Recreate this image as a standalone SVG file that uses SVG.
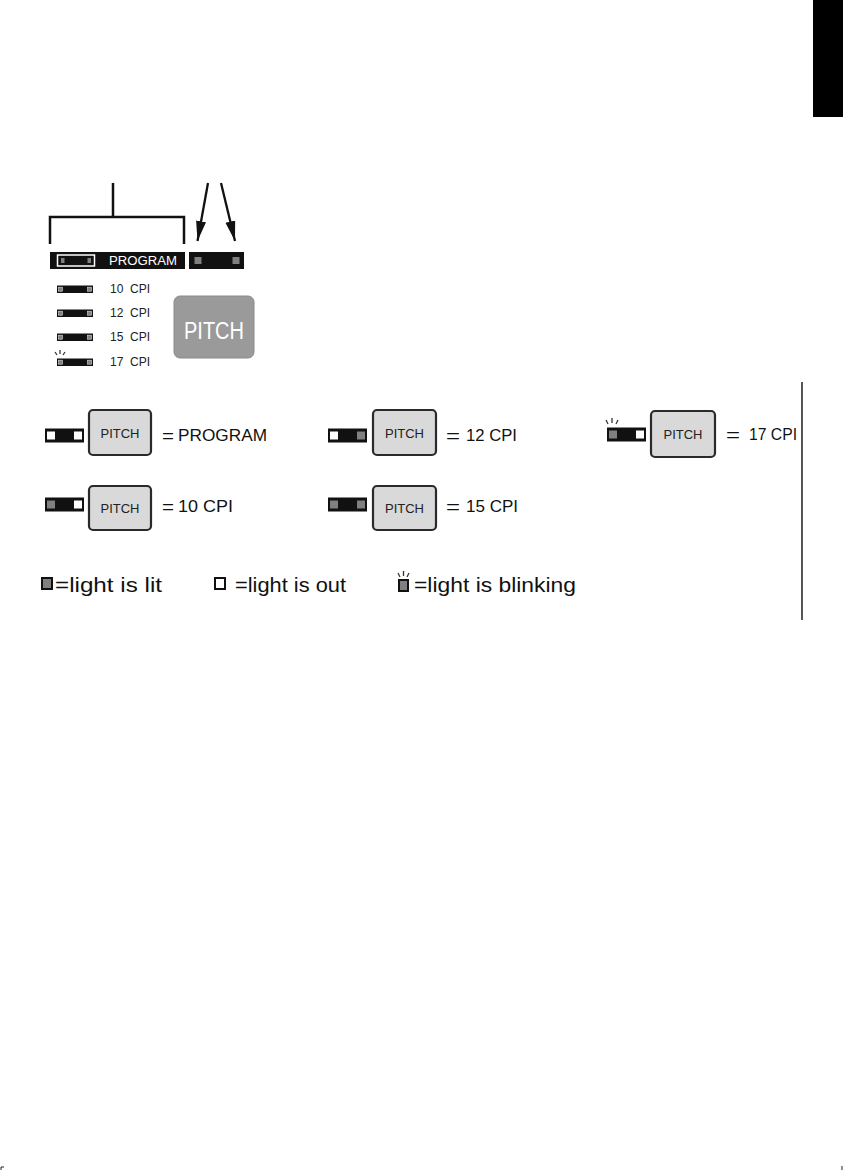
<svg xmlns="http://www.w3.org/2000/svg" width="843" height="1170" viewBox="0 0 843 1170">
<style>
text{font-family:"Liberation Sans",Arial,sans-serif;}
.blk{fill:#111;}
.lit{fill:#808080;}
.out{fill:#fff;}
.btn{fill:#d9d9d9;stroke:#2a2a2a;stroke-width:2.2;}
.btxt{font-size:13px;fill:#222;text-anchor:middle;}
.lbl{font-size:16px;fill:#111;}
.eq{font-size:18px;fill:#111;}
.sm{font-size:12px;fill:#222;white-space:pre;}
.leg{font-size:21px;fill:#111;}
.ln{stroke:#111;stroke-width:2.5;fill:none;}
.blink{stroke:#333;stroke-width:1.3;}
</style>
<defs>
<marker id="ah" viewBox="0 0 20 10" refX="20" refY="5" markerWidth="20" markerHeight="11" markerUnits="userSpaceOnUse" orient="auto">
<path d="M0,0 L20,5 L0,10 z" fill="#111"/>
</marker>
<g id="minibar">
<rect x="0" y="0" width="36" height="7.5" class="blk"/>
<rect x="1.5" y="1.7" width="4" height="4" class="lit" stroke="#ddd" stroke-width="0.6"/>
<rect x="30.5" y="1.7" width="4" height="4" class="lit" stroke="#ddd" stroke-width="0.6"/>
</g>
</defs>

<g id="tab"><rect x="813" y="0" width="30" height="117" fill="#000"/></g>

<g id="connectors">
<path class="ln" d="M113,183 V217 M50,244 V217 H184 V244"/>
<line x1="208" y1="183" x2="197.5" y2="241" stroke="#111" stroke-width="2.3" marker-end="url(#ah)"/>
<line x1="221" y1="183" x2="235" y2="241" stroke="#111" stroke-width="2.3" marker-end="url(#ah)"/>
</g>

<g id="program-bar">
<rect x="50" y="252" width="135" height="17" class="blk"/>
<rect x="57.5" y="255" width="37" height="11" fill="none" stroke="#fff" stroke-width="1.5"/>
<rect x="61" y="258" width="3.5" height="5" class="lit"/>
<rect x="87.5" y="258" width="3.5" height="5" class="lit"/>
<text x="109" y="265" font-size="12.5" fill="#fff" textLength="68" lengthAdjust="spacingAndGlyphs">PROGRAM</text>
</g>

<g id="pitch-leds">
<rect x="189" y="252" width="55" height="17" class="blk"/>
<rect x="194.5" y="257" width="7" height="7" class="lit"/>
<rect x="232.5" y="257" width="7" height="7" class="lit"/>
</g>

<g id="cpi10"><use href="#minibar" x="57" y="285.5"/><text x="110" y="293" class="sm">10  CPI</text></g>
<g id="cpi12"><use href="#minibar" x="57" y="309.5"/><text x="110" y="317" class="sm">12  CPI</text></g>
<g id="cpi15"><use href="#minibar" x="57" y="333.5"/><text x="110" y="341" class="sm">15  CPI</text></g>
<g id="cpi17"><use href="#minibar" x="57" y="358.5"/>
<line x1="55" y1="352" x2="57" y2="355" class="blink"/><line x1="60" y1="350" x2="60" y2="354" class="blink"/><line x1="65" y1="352" x2="63" y2="355" class="blink"/>
<text x="110" y="366" class="sm">17  CPI</text></g>

<g id="pitch-button">
<rect x="174" y="296" width="80" height="62" rx="6" fill="#9a9a9a" stroke="#8a8a8a" stroke-width="1"/>
<text x="214" y="338.5" font-size="23" fill="#fff" text-anchor="middle" textLength="60" lengthAdjust="spacingAndGlyphs">PITCH</text>
</g>

<g id="leg-program">
<rect x="45" y="428.5" width="39" height="14" class="blk"/>
<rect x="47" y="431.5" width="8" height="8" class="out"/>
<rect x="74" y="431.5" width="8" height="8" class="out"/>
<rect x="89" y="410" width="62" height="45" rx="4" class="btn"/>
<text x="120" y="438" class="btxt">PITCH</text>
<text x="162" y="442" class="eq" textLength="12" lengthAdjust="spacingAndGlyphs">=</text>
<text x="178" y="441" class="lbl" textLength="89" lengthAdjust="spacingAndGlyphs">PROGRAM</text>
</g>

<g id="leg-10cpi">
<rect x="45" y="497.5" width="39" height="14" class="blk"/>
<rect x="47" y="500.5" width="8" height="8" class="lit"/>
<rect x="74" y="500.5" width="8" height="8" class="out"/>
<rect x="89" y="486" width="62" height="44" rx="4" class="btn"/>
<text x="120" y="513" class="btxt">PITCH</text>
<text x="162" y="513" class="eq" textLength="12" lengthAdjust="spacingAndGlyphs">=</text>
<text x="178" y="512" class="lbl" textLength="55" lengthAdjust="spacingAndGlyphs">10 CPI</text>
</g>

<g id="leg-12cpi">
<rect x="328" y="428.5" width="39" height="14" class="blk"/>
<rect x="330" y="431.5" width="8" height="8" class="out"/>
<rect x="357" y="431.5" width="8" height="8" class="lit"/>
<rect x="373" y="410" width="63" height="45" rx="4" class="btn"/>
<text x="404.5" y="438" class="btxt">PITCH</text>
<text x="446" y="442" class="eq" textLength="14" lengthAdjust="spacingAndGlyphs">=</text>
<text x="466" y="441" class="lbl" textLength="51" lengthAdjust="spacingAndGlyphs">12 CPI</text>
</g>

<g id="leg-15cpi">
<rect x="328" y="497.5" width="39" height="14" class="blk"/>
<rect x="330" y="500.5" width="8" height="8" class="lit"/>
<rect x="357" y="500.5" width="8" height="8" class="lit"/>
<rect x="373" y="486" width="63" height="44" rx="4" class="btn"/>
<text x="404.5" y="513" class="btxt">PITCH</text>
<text x="446" y="513" class="eq" textLength="14" lengthAdjust="spacingAndGlyphs">=</text>
<text x="466" y="512" class="lbl" textLength="52" lengthAdjust="spacingAndGlyphs">15 CPI</text>
</g>

<g id="leg-17cpi">
<rect x="607" y="427.5" width="39" height="14" class="blk"/>
<rect x="609" y="430.5" width="8" height="8" class="lit"/>
<rect x="636" y="430.5" width="8" height="8" class="out"/>
<line x1="606" y1="420" x2="608" y2="424" class="blink"/><line x1="612" y1="418" x2="612" y2="423" class="blink"/><line x1="618" y1="420" x2="616" y2="424" class="blink"/>
<rect x="651" y="411" width="64" height="46" rx="4" class="btn"/>
<text x="683" y="439" class="btxt">PITCH</text>
<text x="726" y="441" class="eq" textLength="14" lengthAdjust="spacingAndGlyphs">=</text>
<text x="749" y="440" class="lbl" textLength="48" lengthAdjust="spacingAndGlyphs">17 CPI</text>
</g>

<g id="divider"><line x1="802" y1="382" x2="802" y2="620" stroke="#555" stroke-width="2"/></g>

<g id="key-lit">
<rect x="42" y="578" width="10" height="11" class="lit" stroke="#111" stroke-width="2"/>
<text x="55" y="592" class="leg" textLength="107" lengthAdjust="spacingAndGlyphs">=light is lit</text>
</g>
<g id="key-out">
<rect x="215" y="578" width="10" height="11" class="out" stroke="#111" stroke-width="2"/>
<text x="235" y="592" class="leg" textLength="111" lengthAdjust="spacingAndGlyphs">=light is out</text>
</g>
<g id="key-blink">
<rect x="399" y="580" width="9" height="11" class="lit" stroke="#111" stroke-width="2"/>
<line x1="398" y1="573" x2="400" y2="577" class="blink"/><line x1="403.5" y1="571" x2="403.5" y2="576" class="blink"/><line x1="409" y1="573" x2="407" y2="577" class="blink"/>
<text x="414" y="592" class="leg" textLength="162" lengthAdjust="spacingAndGlyphs">=light is blinking</text>
</g>

<g id="corners">
<path d="M1,1170 V1167 H4" stroke="#222" stroke-width="1" fill="none"/>
<path d="M842,1170 V1166" stroke="#222" stroke-width="1" fill="none"/>
</g>
</svg>
